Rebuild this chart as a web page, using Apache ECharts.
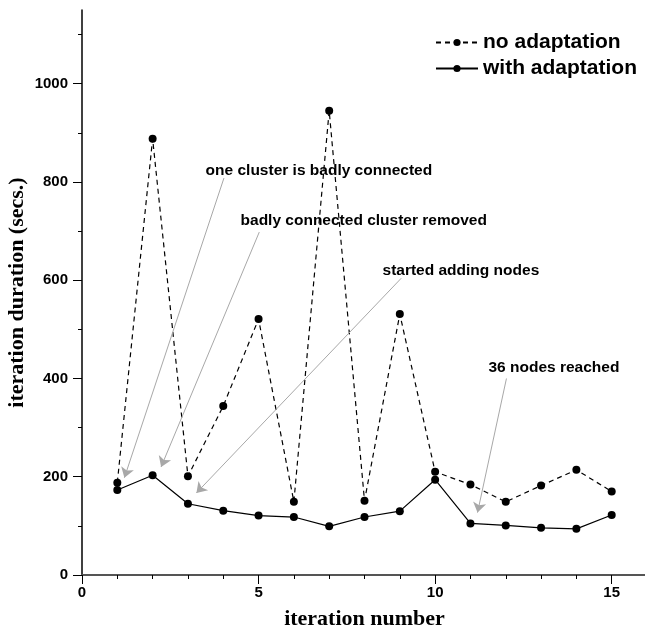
<!DOCTYPE html>
<html>
<head>
<meta charset="utf-8">
<script src="https://cdn.jsdelivr.net/npm/echarts@6/dist/echarts.min.js"></script>
<style>
  html, body { margin: 0; padding: 0; background: #fff; }
</style>
</head>
<body>
<div id="main" style="width: 645px; height: 628px"></div>
<script>
// values
var iterations = [1, 2, 3, 4, 5, 6, 7, 8, 9, 10, 11, 12, 13, 14, 15];
var noAdaptation = [188, 888, 201, 344, 521, 149, 945, 151, 531, 210, 184, 149, 182, 214, 170];
var withAdaptation = [173, 203, 145, 131, 121, 118, 99, 118, 130, 194, 105, 101, 96, 94, 122];

var yMajorTicks = [0, 200, 400, 600, 800, 1000];
var yMinorTicks = [100, 300, 500, 700, 900, 1100];
var xMajorTicks = [0, 5, 10, 15];
var xMinorTicks = [1, 2, 3, 4, 6, 7, 8, 9, 11, 12, 13, 14];

// annotations: text, where the text starts, arrow start, arrow tip (data coords)
var annoText = [
  "one cluster is badly connected",
  "badly connected cluster removed",
  "started adding nodes",
  "36 nodes reached"
];
var annoTextAt = [[3.5, 822], [4.49, 721], [8.51, 620], [11.51, 422]];
var annoFrom = [[4.02, 808], [5.02, 698], [9.04, 604], [12.02, 400]];
var annoTo = [[1.2, 198], [2.24, 220], [3.24, 167], [11.2, 127]];

function pairs(xs, ys) {
  return xs.map(function (x, i) { return [x, ys[i]]; });
}

var tickFont = { color: "#000", fontFamily: "Liberation Sans", fontWeight: "bold", fontSize: 15 };
var nameFont = { color: "#000", fontFamily: "Liberation Serif", fontWeight: "bold", fontSize: 22 };

var box = { left: 82, right: -2, top: 10, bottom: 53, outerBoundsMode: "none", containLabel: false };

// an axis in its own overlaid grid that only draws ticks
// (ticks sitting exactly on a label value get dropped, so nudge them a hair)
function tickAxis(grid, max, values, len) {
  return {
    type: "value",
    gridIndex: grid,
    min: 0,
    max: max,
    axisLine: { show: false },
    axisTick: {
      show: true,
      length: len,
      customValues: values.map(function (v) { return v + 1e-6; }),
      lineStyle: { color: "#000", width: 1 }
    },
    axisLabel: { show: false },
    splitLine: { show: false }
  };
}

var myChart = echarts.init(document.getElementById("main"));

var option = {
  animation: false,
  backgroundColor: "#fff",
  grid: [box, box, box],
  legend: {
    orient: "vertical",
    left: 435,
    top: 32,
    padding: 0,
    itemWidth: 42,
    itemHeight: 9,
    itemGap: 5,
    data: ["no adaptation", "with adaptation"],
    textStyle: { color: "#000", fontFamily: "Liberation Sans", fontWeight: "bold", fontSize: 21, lineHeight: 20 }
  },
  xAxis: [
    {
      type: "value",
      min: 0,
      max: 16,
      interval: 5,
      name: "iteration number",
      nameLocation: "middle",
      nameGap: 33,
      nameMoveOverlap: false,
      nameTextStyle: nameFont,
      axisLine: { show: true, lineStyle: { color: "#555", width: 2 } },
      axisTick: { show: false },
      axisLabel: { showMaxLabel: false, margin: 10, ...tickFont },
      splitLine: { show: false }
    },
    tickAxis(1, 16, xMajorTicks, 9),
    tickAxis(2, 16, xMinorTicks, 4)
  ],
  yAxis: [
    {
      type: "value",
      min: 0,
      max: 1150,
      interval: 200,
      name: "iteration duration (secs.)",
      nameLocation: "middle",
      nameRotate: 90,
      nameGap: 54,
      nameMoveOverlap: false,
      nameTextStyle: nameFont,
      axisLine: { show: true, lineStyle: { color: "#000", width: 1.5 } },
      axisTick: { show: false },
      axisLabel: {
        showMaxLabel: false,
        margin: 14,
        formatter: function (v) { return String(v); },
        ...tickFont
      },
      splitLine: { show: false }
    },
    tickAxis(1, 1150, yMajorTicks, 9),
    tickAxis(2, 1150, yMinorTicks, 4)
  ],
  series: [
    {
      name: "no adaptation",
      type: "line",
      data: pairs(iterations, noAdaptation),
      symbol: "circle",
      symbolSize: 8,
      itemStyle: { color: "#000" },
      lineStyle: { color: "#000", width: 1.2, type: [5, 4] }
    },
    {
      name: "with adaptation",
      type: "line",
      data: pairs(iterations, withAdaptation),
      symbol: "circle",
      symbolSize: 8,
      itemStyle: { color: "#000" },
      lineStyle: { color: "#000", width: 1.2 },
      markLine: {
        silent: true,
        symbol: ["none", "arrow"],
        symbolSize: 10,
        lineStyle: { color: "#a8a8a8", width: 1, type: "solid" },
        itemStyle: { color: "#888" },
        label: { show: false },
        data: annoFrom.map(function (p, i) {
          return [{ coord: p }, { coord: annoTo[i] }];
        })
      },
      markPoint: {
        silent: true,
        symbol: "circle",
        symbolSize: 0,
        label: {
          show: true,
          position: "right",
          distance: 0,
          color: "#000",
          fontFamily: "Liberation Sans",
          fontWeight: "bold",
          fontSize: 15.5
        },
        data: annoText.map(function (t, i) {
          return { coord: annoTextAt[i], value: t, label: { formatter: t } };
        })
      }
    }
  ]
};

myChart.setOption(option);
window.onresize = myChart.resize;
</script>
</body>
</html>
